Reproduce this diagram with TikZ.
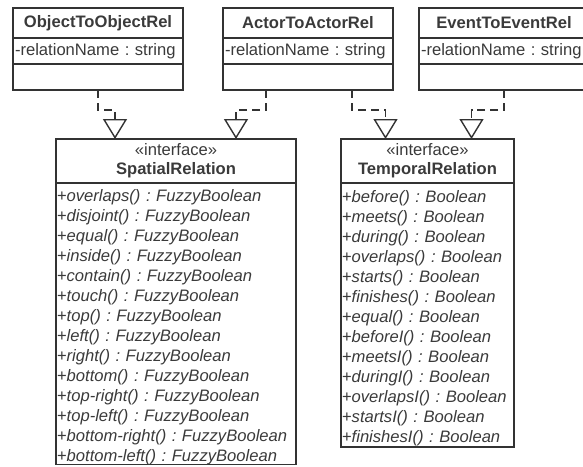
\documentclass[tikz,border=0pt]{standalone}
\usepackage{fontspec}
\setmainfont{Liberation Sans}
\usetikzlibrary{positioning,arrows.meta}
\definecolor{umlline}{HTML}{333333}
\definecolor{umltext}{HTML}{3A3A3A}
\frenchspacing
\newcommand{\fuzzyop}[1]{+\textit{#1() : FuzzyBoolean}}
\newcommand{\boolop}[1]{+\textit{#1() : Boolean}}
\begin{document}
\begin{tikzpicture}[x=1pt, y=-1pt, thick]
  \tikzstyle{every node}=[font=\fontsize{16.6}{20}\selectfont\frenchspacing, text=umltext]
  \tikzstyle{box}=[draw=umlline, line width=1.4pt, inner sep=0pt, outer sep=0pt]
  \tikzstyle{classname}=[box, minimum width=170pt, minimum height=30pt, font=\fontsize{16.6}{20}\selectfont\bfseries]
  \tikzstyle{attrs}=[box, text width=166pt, inner xsep=2pt, minimum height=26pt, align=left]
  \tikzstyle{ifhead}=[box, inner xsep=1pt, minimum height=44pt, align=center, font=\fontsize{16.6}{19}\selectfont]
  \tikzstyle{methods}=[box, inner xsep=1pt, align=left]
  \tikzstyle{realize}=[draw=umlline, line width=1.4pt, dash pattern=on 8pt off 5pt, -{Triangle[open, length=20pt, width=24pt]}]
  \useasboundingbox (0,0) rectangle (583,466);
  \clip (0,0) rectangle (583,466);
  % Relation classes on top
  \foreach \x/\name/\title in {98/oor/ObjectToObjectRel, 308/aar/ActorToActorRel, 504/eer/EventToEventRel} {
    \node[classname] (\name) at (\x,23) {\title};
    \node[attrs, below=0pt of \name] (\name a) {-relationName : string};
    \node[attrs, below=0pt of \name a] (\name b) {};
  }

  % Interfaces
  \node[ifhead, text width=238pt] (sph) at (176,161) {«interface»\\\textbf{SpatialRelation}};
  \node[methods, text width=238pt, minimum height=281pt, below=0pt of sph] (spm) {%
    \rule{0pt}{18pt}\fuzzyop{overlaps}\\ \fuzzyop{disjoint}\\ \fuzzyop{equal}\\ \fuzzyop{inside}\\
    \fuzzyop{contain}\\ \fuzzyop{touch}\\ \fuzzyop{top}\\ \fuzzyop{left}\\
    \fuzzyop{right}\\ \fuzzyop{bottom}\\ \fuzzyop{top-right}\\ \fuzzyop{top-left}\\
    \fuzzyop{bottom-right}\\ \fuzzyop{bottom-left}};
  \node[ifhead, text width=171pt] (tph) at (427.5,161) {«interface»\\\textbf{TemporalRelation}};
  \node[methods, text width=171pt, minimum height=264pt, below=0pt of tph] (tpm) {%
    \rule{0pt}{18pt}\boolop{before}\\ \boolop{meets}\\ \boolop{during}\\ \boolop{overlaps}\\
    \boolop{starts}\\ \boolop{finishes}\\ \boolop{equal}\\ \boolop{beforeI}\\
    \boolop{meetsI}\\ \boolop{duringI}\\ \boolop{overlapsI}\\ \boolop{startsI}\\
    \boolop{finishesI}};

  % Realizations
  \draw[realize] (oorb.south) -- ++(0,20) -| ([xshift=-61pt]sph.north);
  \draw[realize] ([xshift=-42pt]aarb.south) -- ++(0,20) -| ([xshift=60pt]sph.north);
  \draw[realize] ([xshift=44pt]aarb.south) -- ++(0,20) -| ([xshift=-42pt]tph.north);
  \draw[realize] (eerb.south) -- ++(0,20) -| ([xshift=44pt]tph.north);
\end{tikzpicture}
\end{document}
